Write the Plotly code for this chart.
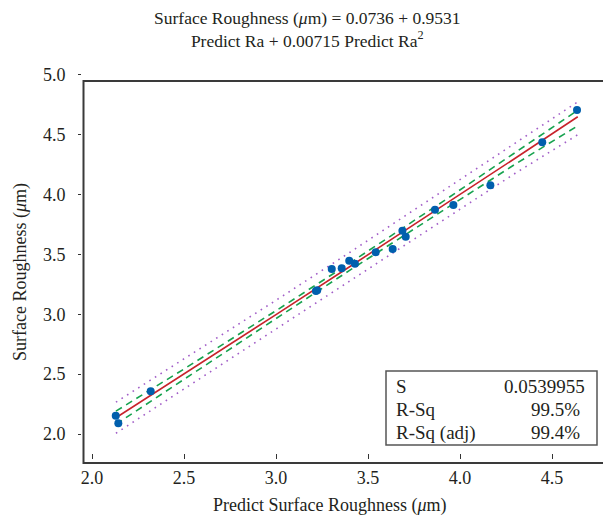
import plotly.graph_objects as go

pred = [2.129, 2.143, 2.319, 3.217, 3.224, 3.303, 3.357, 3.398, 3.429, 3.542,
        3.634, 3.687, 3.705, 3.864, 3.964, 4.165, 4.447, 4.636]
actual = [2.153, 2.089, 2.357, 3.195, 3.200, 3.378, 3.384, 3.448, 3.423, 3.518,
          3.546, 3.698, 3.648, 3.874, 3.913, 4.078, 4.437, 4.707]

# Fitted line and bands
fit_x = [2.13, 2.5, 3.0, 3.4, 3.9, 4.3, 4.64]
fit_y = [2.136, 2.501, 2.997, 3.397, 3.899, 4.304, 4.650]
ci_upper = [2.191, 2.543, 3.030, 3.427, 3.935, 4.354, 4.705]
ci_lower = [2.081, 2.459, 2.964, 3.367, 3.863, 4.254, 4.575]
pi_upper = [2.266, 2.625, 3.117, 3.516, 4.020, 4.430, 4.775]
pi_lower = [2.006, 2.377, 2.877, 3.278, 3.778, 4.178, 4.500]

x_ticks = [2.0, 2.5, 3.0, 3.5, 4.0, 4.5]
y_ticks = [2.0, 2.5, 3.0, 3.5, 4.0, 4.5, 5.0]

stat_names = ["S", "R-Sq", "R-Sq (adj)"]
stat_values = ["0.0539955", "99.5%", "99.4%"]

FONT = "Liberation Serif"
TXT = "#231f20"

W, H = 603, 524
L, R, T, B = 82, 0, 74, 65
pw, ph = W - L - R, H - T - B


def px_x(p):
    return (p - L) / pw


def px_y(p):
    return (H - B - p) / ph


fig = go.Figure()
for band in (pi_upper, pi_lower):
    fig.add_trace(go.Scatter(x=fit_x, y=band, mode="lines",
                             line=dict(color="#a25fc8", width=1.6, dash="1.6px,5px"),
                             hoverinfo="skip"))
for band in (ci_upper, ci_lower):
    fig.add_trace(go.Scatter(x=fit_x, y=band, mode="lines",
                             line=dict(color="#17a34f", width=1.6, dash="7px,5px"),
                             hoverinfo="skip"))
fig.add_trace(go.Scatter(x=fit_x, y=fit_y, mode="lines",
                         line=dict(color="#c8232c", width=1.6)))
fig.add_trace(go.Scatter(x=pred, y=actual, mode="markers",
                         marker=dict(color="#005fad", size=8)))

x_lo = 2.0 + (L - 92) / 184.0
x_hi = 2.0 + (W - R - 92) / 184.0
y_hi = 2.0 + (434 - T) / 119.7
y_lo = 2.0 - (H - B - 434) / 119.7

fig.update_xaxes(range=[x_lo, x_hi], tickvals=x_ticks,
                 ticktext=[f"{v:.1f}" for v in x_ticks],
                 ticks="inside", ticklen=5, tickwidth=1.2, tickcolor="#333",
                 showline=False, showgrid=False, zeroline=False, automargin=False,
                 tickfont=dict(family=FONT, size=18, color=TXT),
                 ticklabelstandoff=6)
fig.update_yaxes(range=[y_lo, y_hi], tickvals=y_ticks,
                 ticktext=[f"{v:.1f}" for v in y_ticks],
                 ticks="outside", ticklen=3, tickwidth=1.2, tickcolor="#333",
                 showline=False, showgrid=False, zeroline=False, automargin=False,
                 tickfont=dict(family=FONT, size=18, color=TXT),
                 ticklabelstandoff=9)

# open frame (left, top, bottom)
fx0, fy_top, fy_bot = px_x(83.5), px_y(81), px_y(463)
fig.add_shape(type="path", xref="paper", yref="paper",
              path=f"M 1.05 {fy_top} L {fx0} {fy_top} L {fx0} {fy_bot} L 1.05 {fy_bot}",
              line=dict(color="#3a3a3a", width=2))

# stats box
fig.add_shape(type="rect", xref="paper", yref="paper",
              x0=px_x(386), x1=px_x(597), y0=px_y(445), y1=px_y(371),
              line=dict(color="#555", width=1.5), fillcolor="white")
rows_y = [386, 409.5, 432.5]
val_right = [587, 582, 582]
for name, val, yy, xr in zip(stat_names, stat_values, rows_y, val_right):
    fig.add_annotation(xref="paper", yref="paper", x=px_x(394), y=px_y(yy),
                       text=name, showarrow=False, xanchor="left", yanchor="middle",
                       font=dict(family=FONT, size=19, color=TXT))
    fig.add_annotation(xref="paper", yref="paper", x=px_x(xr), y=px_y(yy),
                       text=val, showarrow=False, xanchor="right", yanchor="middle",
                       font=dict(family=FONT, size=19, color=TXT))

# title
fig.add_annotation(xref="paper", yref="paper", x=px_x(307), y=px_y(30),
                   text="Surface Roughness (<i>μ</i>m) = 0.0736 + 0.9531<br>"
                        "Predict Ra + 0.00715 Predict Ra<sup>2</sup>",
                   showarrow=False, xanchor="center", yanchor="middle",
                   font=dict(family=FONT, size=17.5, color=TXT))
# axis titles
fig.add_annotation(xref="paper", yref="paper", x=px_x(330), y=px_y(505),
                   text="Predict Surface Roughness (<i>μ</i>m)",
                   showarrow=False, xanchor="center", yanchor="middle",
                   font=dict(family=FONT, size=18, color=TXT))
fig.add_annotation(xref="paper", yref="paper", x=px_x(20), y=px_y(272),
                   text="Surface Roughness (<i>μ</i>m)", textangle=-90,
                   showarrow=False, xanchor="center", yanchor="middle",
                   font=dict(family=FONT, size=18, color=TXT))

fig.update_layout(width=W, height=H, margin=dict(l=L, r=R, t=T, b=B),
                  paper_bgcolor="white", plot_bgcolor="white",
                  showlegend=False)

fig.write_html("out.html", config={"displayModeBar": False},
               post_script="document.body.style.margin='0';")
